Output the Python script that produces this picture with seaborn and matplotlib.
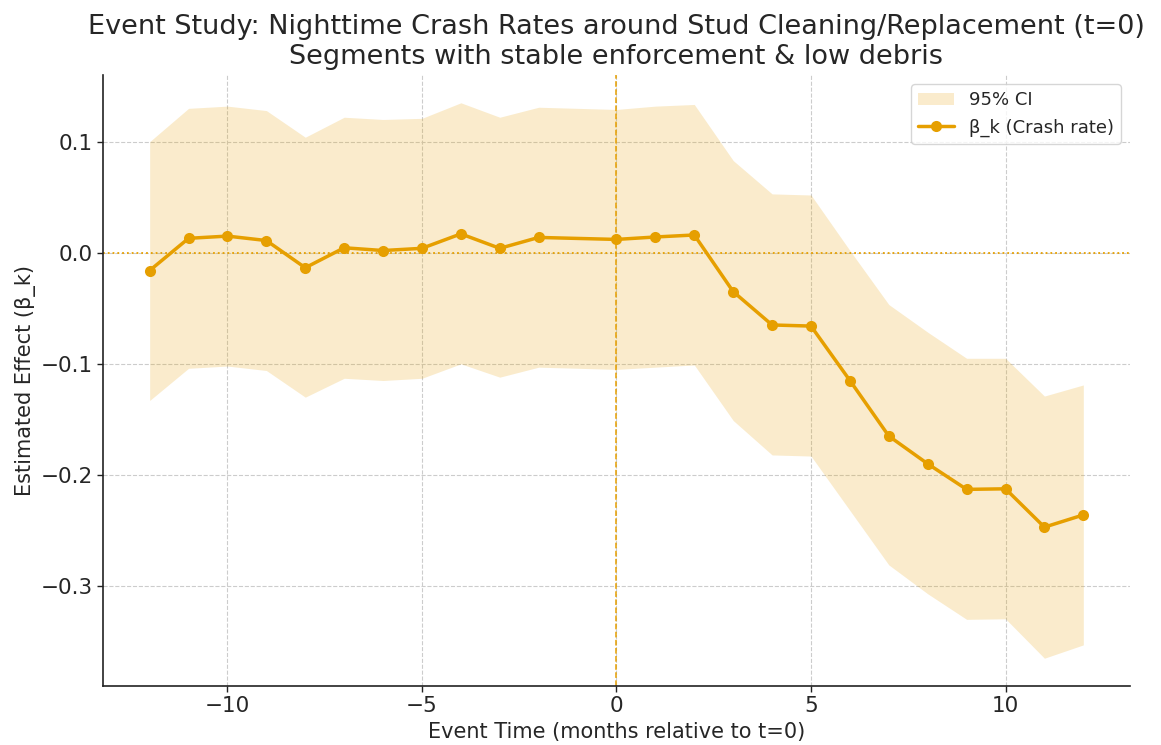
import numpy as np
import pandas as pd
import matplotlib
matplotlib.use("Agg")
import matplotlib.pyplot as plt
import seaborn as sns

# ── Data (t=-1 is the omitted reference period) ──────────────────────────────
event_time = [-12, -11, -10, -9, -8, -7, -6, -5, -4, -3, -2, 0,
              1, 2, 3, 4, 5, 6, 7, 8, 9, 10, 11, 12]
beta = [-0.016, 0.013, 0.015, 0.011, -0.0135, 0.0045, 0.002, 0.004, 0.017, 0.004, 0.0138, 0.012,
        0.0142, 0.016, -0.035, -0.065, -0.066, -0.115, -0.165, -0.190, -0.213, -0.2125, -0.247, -0.236]
ci_low = [-0.133, -0.104, -0.102, -0.106, -0.130, -0.113, -0.115, -0.113, -0.100, -0.112, -0.103, -0.105,
          -0.103, -0.101, -0.151, -0.182, -0.183, -0.232, -0.281, -0.307, -0.330, -0.3295, -0.365, -0.353]
ci_high = [0.100, 0.130, 0.132, 0.128, 0.104, 0.122, 0.120, 0.121, 0.135, 0.122, 0.131, 0.129,
           0.132, 0.1335, 0.083, 0.053, 0.052, 0.002, -0.0466, -0.0715, -0.095, -0.095, -0.129, -0.119]

df = pd.DataFrame({"t": event_time, "beta": beta, "lo": ci_low, "hi": ci_high})

ORANGE = "#E69F00"
TEXT = "#262626"

# ── Plot ──────────────────────────────────────────────────────────────────────
sns.set_theme(style="ticks")
plt.rcParams["font.family"] = ["DejaVu Sans"]

fig = plt.figure(figsize=(11.61, 7.45), dpi=100)
ax = fig.add_axes([0.0887, 0.0792, 0.8846, 0.8201])

ax.fill_between(df["t"], df["lo"], df["hi"], color=ORANGE, alpha=0.2,
                linewidth=0, label="95% CI")
sns.lineplot(data=df, x="t", y="beta", ax=ax, color=ORANGE, marker="o",
             markersize=8, markeredgewidth=0, linewidth=2.5,
             label="β_k (Crash rate)")

ax.axhline(0, color=ORANGE, linestyle=":", linewidth=1.3)
ax.axvline(0, color=ORANGE, linestyle="--", linewidth=1.1)

ax.grid(True, linestyle="--", color="#cccccc", linewidth=0.8)
sns.despine(ax=ax)
for sp in ["left", "bottom"]:
    ax.spines[sp].set_color("#222222")
    ax.spines[sp].set_linewidth(1.2)

ax.set_xticks([-10, -5, 0, 5, 10])
ax.set_yticks([0.1, 0.0, -0.1, -0.2, -0.3])
ax.tick_params(labelsize=15.5, length=4, width=1, color="#222222", labelcolor=TEXT)
ax.set_xlabel("Event Time (months relative to t=0)", fontsize=15, labelpad=4, color=TEXT)
ax.set_ylabel("Estimated Effect (β_k)", fontsize=15, labelpad=3, color=TEXT)
# slightly smaller than the reference so the first line is not clipped
ax.set_title("Event Study: Nighttime Crash Rates around Stud Cleaning/Replacement (t=0)\n"
             "Segments with stable enforcement & low debris", fontsize=19.5, pad=8,
             color=TEXT, linespacing=1.2)

leg = ax.legend(loc="upper right", fontsize=13, frameon=True, framealpha=0.8,
                edgecolor="#cccccc")
for txt in leg.get_texts():
    txt.set_color(TEXT)

fig.savefig("out.png", dpi=100)
